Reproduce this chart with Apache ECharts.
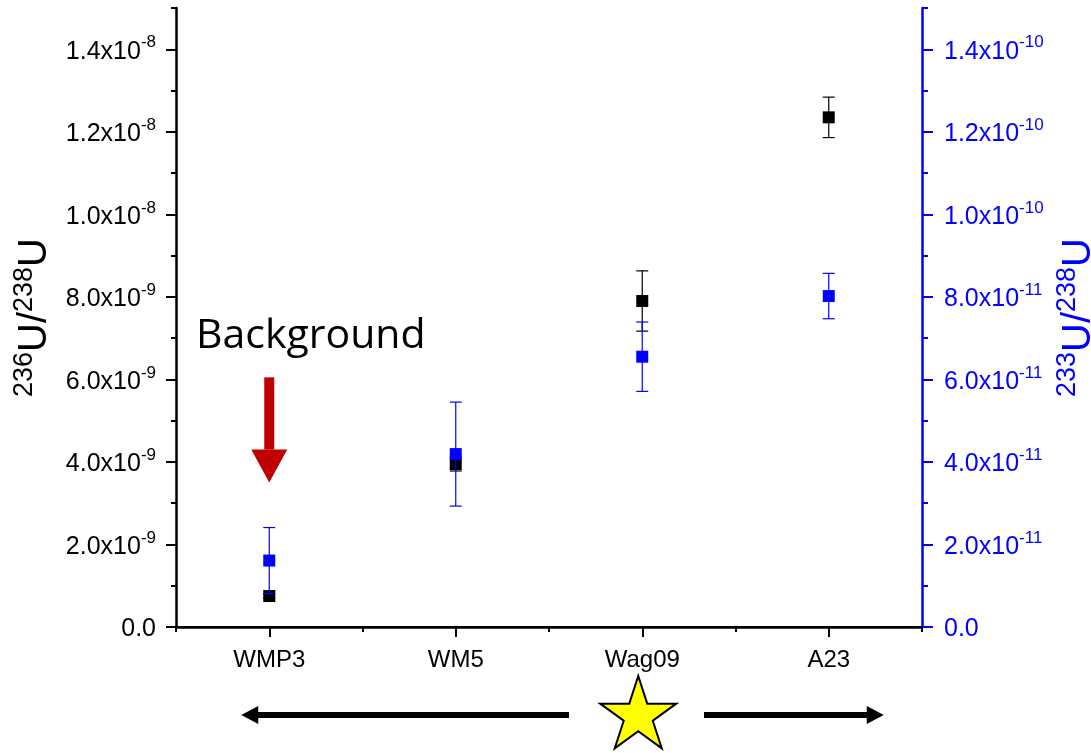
<!DOCTYPE html>
<html><head><meta charset="utf-8">
<script src="https://cdn.jsdelivr.net/npm/echarts@6/dist/echarts.min.js"></script>
<style>html,body{margin:0;padding:0;background:#fff}#c{width:1091px;height:753px}</style>
</head><body><div id="c"></div>
<script>
const categories = ['WMP3', 'WM5', 'Wag09', 'A23'];
const u236Values = [0.75e-9, 3.95e-9, 7.90e-9, 12.35e-9];
const u236Errors = [0.05e-9, 0.17e-9, 0.73e-9, 0.49e-9];
const u233Values = [1.61e-11, 4.19e-11, 6.55e-11, 8.02e-11];
const u233Errors = [0.80e-11, 1.26e-11, 0.84e-11, 0.55e-11];
const leftTickValues = [0, 2e-9, 4e-9, 6e-9, 8e-9, 1e-8, 1.2e-8, 1.4e-8];
const leftTickLabels = ['0.0', '2.0x10^-9', '4.0x10^-9', '6.0x10^-9', '8.0x10^-9', '1.0x10^-8', '1.2x10^-8', '1.4x10^-8'];
const rightTickValues = [0, 2e-11, 4e-11, 6e-11, 8e-11, 1e-10, 1.2e-10, 1.4e-10];
const rightTickLabels = ['0.0', '2.0x10^-11', '4.0x10^-11', '6.0x10^-11', '8.0x10^-11', '1.0x10^-10', '1.2x10^-10', '1.4x10^-10'];

const FONT = '"Liberation Sans", Arial, sans-serif';
const BLUE = '#0000FF';

function makeFormatter(vals, labels, step) {
  return function (v) {
    for (let i = 0; i < vals.length; i++) {
      if (Math.abs(v - vals[i]) < step * 1e-3) {
        const parts = labels[i].split('^');
        return parts.length > 1 ? '{m|' + parts[0] + '}{s|' + parts[1] + '}' : '{m|' + parts[0] + '}';
      }
    }
    return '';
  };
}
function richFor(color) {
  return {
    m: { fontSize: 25, fontFamily: FONT, color: color, verticalAlign: 'bottom', lineHeight: 30 },
    s: { fontSize: 17, fontFamily: FONT, color: color, verticalAlign: 'top', lineHeight: 17 }
  };
}
function titleRich(color) {
  return {
    m: { fontSize: 40, fontFamily: FONT, color: color, verticalAlign: 'bottom', lineHeight: 44 },
    s: { fontSize: 27, fontFamily: FONT, color: color, verticalAlign: 'top', lineHeight: 27 }
  };
}
function errRender(color) {
  return function (params, api) {
    const x = api.value(0), v = api.value(1), e = api.value(2);
    const hi = api.coord([x, v + e]), lo = api.coord([x, v - e]);
    const w = 6;
    const st = { stroke: color, lineWidth: 1.2 };
    return { type: 'group', children: [
      { type: 'line', shape: { x1: hi[0], y1: hi[1], x2: lo[0], y2: lo[1] }, style: st },
      { type: 'line', shape: { x1: hi[0] - w, y1: hi[1], x2: hi[0] + w, y2: hi[1] }, style: st },
      { type: 'line', shape: { x1: lo[0] - w, y1: lo[1], x2: lo[0] + w, y2: lo[1] }, style: st }
    ]};
  };
}

const chart = echarts.init(document.getElementById('c'), null, { renderer: 'canvas' });
const yMaxL = 1.5e-8, yMaxR = 1.5e-10;

const option = {
  backgroundColor: '#fff',
  animation: false,
  grid: { left: 176, right: 169, top: 8, bottom: 126, containLabel: false, outerBoundsMode: 'none' },
  xAxis: [
    { type: 'category', data: categories, position: 'bottom',
      axisLine: { show: true, lineStyle: { color: '#000', width: 2.5 } },
      axisTick: { show: true, alignWithLabel: true, length: 10, lineStyle: { color: '#000', width: 2 } },
      axisLabel: { fontSize: 24, fontFamily: FONT, color: '#000', margin: 21 },
      splitLine: { show: false } },
    { type: 'category', data: categories, position: 'bottom',
      axisLine: { show: false },
      axisTick: { show: true, alignWithLabel: false, length: 5, lineStyle: { color: '#000', width: 2 } },
      axisLabel: { show: false }, splitLine: { show: false } },
    { type: 'category', data: categories, position: 'top',
      axisLine: { show: true, lineStyle: { color: '#000', width: 2 } },
      axisTick: { show: false }, axisLabel: { show: false }, splitLine: { show: false } }
  ],
  yAxis: [
    { type: 'value', position: 'left', min: 0, max: yMaxL, interval: 2e-9,
      name: '{s|236}{m|U/}{s|238}{m|U}', nameLocation: 'middle', nameGap: 112,
      nameTextStyle: { rich: titleRich('#000') },
      axisLine: { show: true, lineStyle: { color: '#000', width: 2.5 } },
      axisTick: { show: true, length: 10, customValues: leftTickValues, lineStyle: { color: '#000', width: 2 } },
      axisLabel: { margin: 20, formatter: makeFormatter(leftTickValues, leftTickLabels, 2e-9), rich: richFor('#000') },
      splitLine: { show: false } },
    { type: 'value', position: 'left', min: 0, max: yMaxL, interval: 1e-9,
      axisLine: { show: false },
      axisTick: { show: true, length: 5, lineStyle: { color: '#000', width: 2 } },
      axisLabel: { show: false }, splitLine: { show: false } },
    { type: 'value', position: 'right', min: 0, max: yMaxR, interval: 2e-11,
      name: '{s|233}{m|U/}{s|238}{m|U}', nameLocation: 'middle', nameGap: 131,
      nameTextStyle: { rich: titleRich(BLUE) },
      axisLine: { show: true, lineStyle: { color: BLUE, width: 2.5 } },
      axisTick: { show: true, length: 11, customValues: rightTickValues, lineStyle: { color: BLUE, width: 2 } },
      axisLabel: { margin: 22, formatter: makeFormatter(rightTickValues, rightTickLabels, 2e-11), rich: richFor(BLUE) },
      splitLine: { show: false } },
    { type: 'value', position: 'right', min: 0, max: yMaxR, interval: 1e-11,
      axisLine: { show: false },
      axisTick: { show: true, length: 6, lineStyle: { color: BLUE, width: 2 } },
      axisLabel: { show: false }, splitLine: { show: false } }
  ],
  series: [
    { type: 'scatter', name: '236U/238U', xAxisIndex: 0, yAxisIndex: 0, symbol: 'rect', symbolSize: 12,
      itemStyle: { color: '#000', opacity: 1 }, data: u236Values.map((v, i) => [i, v]), z: 3 },
    { type: 'custom', xAxisIndex: 0, yAxisIndex: 0, renderItem: errRender('#000'),
      data: u236Values.map((v, i) => [i, v, u236Errors[i]]), encode: { x: 0, y: 1 }, z: 4 },
    { type: 'custom', xAxisIndex: 0, yAxisIndex: 2, renderItem: errRender(BLUE),
      data: u233Values.map((v, i) => [i, v, u233Errors[i]]), encode: { x: 0, y: 1 }, z: 5 },
    { type: 'scatter', name: '233U/238U', xAxisIndex: 0, yAxisIndex: 2, symbol: 'rect', symbolSize: 12,
      itemStyle: { color: BLUE, opacity: 1 }, data: u233Values.map((v, i) => [i, v]), z: 6 }
  ]
};
chart.setOption(option);

// Annotations anchored on the chart's own coordinate system
const px = (cat, v) => chart.convertToPixel({ xAxisIndex: 0, yAxisIndex: 0 }, [cat, v]);
const a0 = px(0, 6.05e-9), aMid = px(0, 4.3e-9), aTip = px(0, 3.5e-9);
const ax = a0[0];
const starC = px(2, 0); const starX = starC[0] - 4, starY = 716, R = 40, r = R * 0.382;
const starPts = [];
for (let k = 0; k < 10; k++) {
  const ang = -Math.PI / 2 + k * Math.PI / 5;
  const rad = k % 2 === 0 ? R : r;
  starPts.push([starX + rad * Math.cos(ang), starY + rad * Math.sin(ang)]);
}
const wmp = px(0, 0)[0], a23 = px(3, 0)[0];
const ay = 715;
chart.setOption({
  graphic: [
    { type: 'text', left: 196, top: 316, style: { text: 'Background', fontSize: 41, fontFamily: '"Open Sans", sans-serif', fill: '#000' } },
    { type: 'rect', shape: { x: ax - 5, y: a0[1], width: 10, height: aMid[1] - a0[1] }, style: { fill: '#C00000' } },
    { type: 'polygon', shape: { points: [[ax - 18, aMid[1]], [ax + 18, aMid[1]], [ax, aTip[1]]] }, style: { fill: '#C00000' } },
    { type: 'rect', shape: { x: wmp - 12, y: ay - 3, width: 569 - (wmp - 12), height: 6 }, style: { fill: '#000' } },
    { type: 'polygon', shape: { points: [[wmp - 28, ay], [wmp - 11, ay - 9], [wmp - 11, ay + 9]] }, style: { fill: '#000' } },
    { type: 'rect', shape: { x: 704, y: ay - 3, width: a23 + 40 - 704, height: 6 }, style: { fill: '#000' } },
    { type: 'polygon', shape: { points: [[a23 + 55, ay], [a23 + 38, ay - 9], [a23 + 38, ay + 9]] }, style: { fill: '#000' } },
    { type: 'polygon', shape: { points: starPts }, style: { fill: '#FFFF00', stroke: '#000', lineWidth: 2 } }
  ]
});
</script></body></html>
